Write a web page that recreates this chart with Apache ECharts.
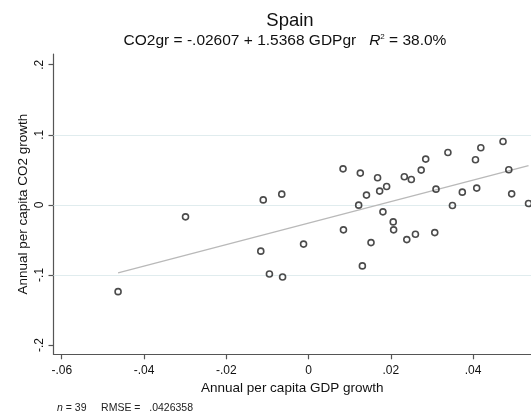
<!DOCTYPE html>
<html><head><meta charset="utf-8">
<script src="https://cdn.jsdelivr.net/npm/echarts@6/dist/echarts.min.js"></script>
<style>html,body{margin:0;padding:0;background:#fff}#c{width:531px;height:418px}</style>
</head><body><div id="c"></div>
<script>
// Annual per capita GDP growth (x) and CO2 growth (y), Spain, n = 39
const gdpGrowth = [-0.0463, -0.0299, -0.0110, -0.0065, -0.0116, -0.0095, -0.0063, -0.0012,
  0.0084, 0.0085, 0.0126, 0.0122, 0.0131, 0.0141, 0.0152, 0.0168, 0.0173, 0.0181, 0.0190,
  0.0206, 0.0207, 0.0233, 0.0250, 0.0239, 0.0260, 0.0274, 0.0285, 0.0307, 0.0310, 0.0339,
  0.0350, 0.0374, 0.0406, 0.0409, 0.0419, 0.0473, 0.0487, 0.0494, 0.0535];
const co2Growth = [-0.1239, -0.0171, 0.0071, 0.0153, -0.0661, -0.0986, -0.1029, -0.0560,
  0.0514, -0.0357, 0.0453, -0.0004, -0.0871, 0.0139, -0.0539, 0.0386, 0.0196, -0.0100, 0.0261,
  -0.0243, -0.0357, 0.0400, 0.0361, -0.0496, -0.0419, 0.0496, 0.0653, -0.0396, 0.0224, 0.0747,
  -0.0010, 0.0181, 0.0643, 0.0239, 0.0814, 0.0904, 0.0500, 0.0157, 0.0019];
const xTicks = [-0.06, -0.04, -0.02, 0, 0.02, 0.04];
const yTicks = [-0.2, -0.1, 0, 0.1, 0.2];
const yGridLines = [-0.1, 0, 0.1];
const fitIntercept = -0.02607;
const fitSlope = 1.5368;

function fmt(v) {
  if (Math.abs(v) < 1e-12) return '0';
  const s = String(+v.toFixed(4));
  return s.replace(/^(-?)0\./, '$1.');
}
const FONT = '"Liberation Sans", Arial, Helvetica, sans-serif';
const points = gdpGrowth.map((x, i) => [x, co2Growth[i]]);
const xMinData = Math.min(...gdpGrowth), xMaxData = Math.max(...gdpGrowth);
const fitLine = [[xMinData, fitIntercept + fitSlope * xMinData], [xMaxData, fitIntercept + fitSlope * xMaxData]];

const chart = echarts.init(document.getElementById('c'), null, {renderer: 'canvas'});
chart.setOption({
  animation: false,
  backgroundColor: '#fff',
  grid: {left: 53.5, right: 0, top: 54, bottom: 63.7, containLabel: false, outerBoundsMode: 'none'},
  xAxis: {
    type: 'value', min: -0.0620, max: 0.0541,
    name: 'Annual per capita GDP growth', nameLocation: 'middle', nameGap: 26,
    nameTextStyle: {fontFamily: FONT, fontSize: 13.5, color: '#111'},
    axisLine: {show: true, onZero: false, lineStyle: {color: '#555', width: 1.2}},
    axisTick: {show: true, length: 5, customValues: xTicks, lineStyle: {color: '#555', width: 1.2}},
    axisLabel: {customValues: xTicks, formatter: fmt, margin: 10, fontFamily: FONT, fontSize: 12, color: '#111'},
    splitLine: {show: false}
  },
  yAxis: {
    type: 'value', min: -0.2133, max: 0.2153,
    name: 'Annual per capita CO2 growth', nameLocation: 'middle', nameGap: 23, nameMoveOverlap: false,
    nameTextStyle: {fontFamily: FONT, fontSize: 13.5, color: '#111'},
    axisLine: {show: true, onZero: false, lineStyle: {color: '#555', width: 1.2}},
    axisTick: {show: true, length: 5, customValues: yTicks, lineStyle: {color: '#555', width: 1.2}},
    axisLabel: {customValues: yTicks, formatter: fmt, rotate: 90, margin: 8, fontFamily: FONT, fontSize: 12, color: '#111'},
    splitLine: {show: false}
  },
  series: [
    {
      type: 'line', data: fitLine, symbol: 'none', z: 2,
      lineStyle: {color: '#b9b9b9', width: 1.3},
      markLine: {
        silent: true, symbol: 'none', z: 1,
        label: {show: false},
        lineStyle: {color: '#e0ecee', width: 1, type: 'solid'},
        data: yGridLines.map(v => ({yAxis: v}))
      }
    },
    {
      type: 'scatter', data: points, symbol: 'circle', symbolSize: 6, z: 3,
      itemStyle: {color: 'rgba(255,255,255,0)', borderColor: '#1e1e1e', borderWidth: 1.6}
    }
  ],
  graphic: [
    {type: 'text', style: {text: 'Spain', x: 290, y: 20.5, align: 'center', verticalAlign: 'middle',
      fontFamily: FONT, fontSize: 18.5, fill: '#111'}},
    {type: 'text', style: {text: 'CO2gr = -.02607 + 1.5368 GDPgr   {i|R}{sup|2} = 38.0%', x: 285, y: 40.5,
      align: 'center', verticalAlign: 'middle', fontFamily: FONT, fontSize: 15.5, fill: '#111',
      rich: {i: {fontStyle: 'italic', fontFamily: FONT, fontSize: 15.5}, sup: {fontFamily: FONT, fontSize: 8, verticalAlign: 'top'}}}},
    {type: 'text', style: {text: '{i|n} = 39     RMSE =   .0426358', x: 57, y: 408, align: 'left', verticalAlign: 'middle',
      fontFamily: FONT, fontSize: 10.5, fill: '#222', rich: {i: {fontStyle: 'italic', fontFamily: FONT, fontSize: 10.5}}}}
  ]
});
</script></body></html>
